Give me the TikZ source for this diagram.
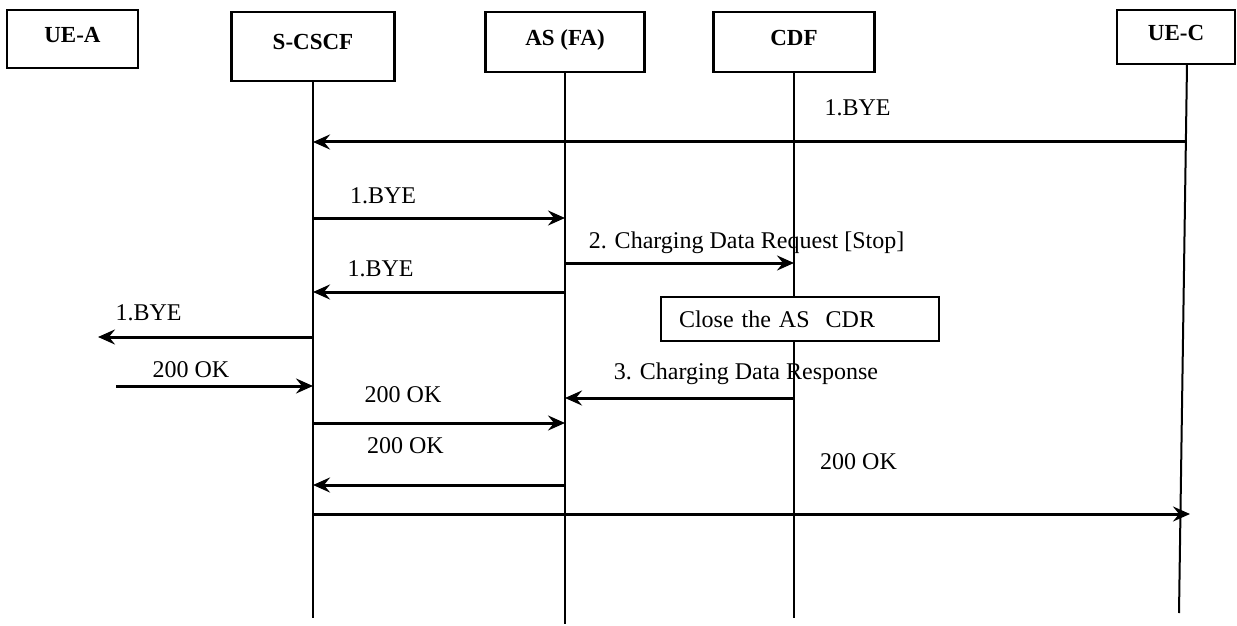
\documentclass[tikz,border=0pt]{standalone}
\usepackage{fontspec}
\setmainfont{Liberation Serif}
\usetikzlibrary{arrows.meta}
\usetikzlibrary{positioning}

\tikzset{
  entity/.style={draw, line width=1.3pt, text height=7.6pt, text depth=4.2pt,
    font=\fontsize{11.5}{13}\selectfont\bfseries},
  lifeline/.style={line width=1pt},
  msg/.style={line width=1.5pt, -{Stealth[length=8.5pt, width=7.5pt, inset=3pt]}},
  msglabel/.style={anchor=base, inner sep=0pt, font=\fontsize{12}{14}\selectfont},
}

\begin{document}
\begin{tikzpicture}[x=0.5pt, y=-0.5pt]
    \useasboundingbox (0,0) rectangle (1237,626);

    % the parties
    \node[entity, minimum width=65.5pt, minimum height=29pt] (uea) at (72.5,39) {UE-A};
    \node[entity, minimum width=81.5pt, minimum height=34.5pt] (scscf) at (313,46.5) {S-CSCF};
    \node[entity, minimum width=79.5pt, minimum height=30pt] (asfa) at (565,42) {AS (FA)};
    \node[entity, minimum width=80.5pt, minimum height=30pt] (cdf) at (794,42) {CDF};
    \node[entity, minimum width=59pt, minimum height=27pt] (uec) at (1176,37) {UE-C};

    % lifelines
    \coordinate (scscfend) at (313,618);
    \coordinate (asfaend) at (565,624);
    \coordinate (cdfend) at (794,618);
    \coordinate (uectop) at (1187,64);
    \coordinate (uecend) at (1179,613);
    \draw[lifeline] (scscf) -- (scscfend);
    \draw[lifeline] (asfa) -- (asfaend);
    \draw[lifeline] (cdf) -- (cdfend);
    \draw[lifeline] (uectop) -- (uecend);

    % free ends towards UE-A
    \coordinate (byea) at (98,337);
    \coordinate (oka) at (116,386);

    % messages
    \draw[msg] (uectop |- 0,142) -- (scscf |- 0,142);
    \node[msglabel] (bye1) at (857.5,116) {1.BYE};

    \draw[msg] (scscf |- 0,218) -- (asfa |- 0,218);
    \node[msglabel] (bye2) at (383,204) {1.BYE};

    \draw[msg] (asfa |- 0,263) -- (cdf |- 0,263);
    \node[msglabel] (cdrreq) at (746.5,248) {2. Charging Data Request [Stop]};

    \draw[msg] (asfa |- 0,292) -- (scscf |- 0,292);
    \node[msglabel] (bye3) at (380.5,276) {1.BYE};

    \node[draw, fill=white, line width=1.3pt, minimum width=139pt, minimum height=22pt,
      text width=121pt, inner xsep=9pt, align=left, font=\fontsize{12}{14}\selectfont]
      (closecdr) at (800,319) {Close the AS~~CDR};

    \draw[msg] (scscf |- byea) -- (byea);
    \node[msglabel] (bye4) at (148.5,320) {1.BYE};

    \draw[msg] (oka) -- (scscf |- oka);
    \node[msglabel] (ok1) at (191,377) {200 OK};

    \draw[msg] (cdf |- 0,398) -- (asfa |- 0,398);
    \node[msglabel] (cdrresp) at (746,379) {3. Charging Data Response};

    \draw[msg] (scscf |- 0,423) -- (asfa |- 0,423);
    \node[msglabel] (ok2) at (403,402) {200 OK};

    \draw[msg] (asfa |- 0,485) -- (scscf |- 0,485);
    \node[msglabel] (ok3) at (405.5,453) {200 OK};

    \draw[msg] (scscf |- 0,514) -- (1190,514);
    \node[msglabel] (ok4) at (858.5,469) {200 OK};
\end{tikzpicture}
\end{document}
